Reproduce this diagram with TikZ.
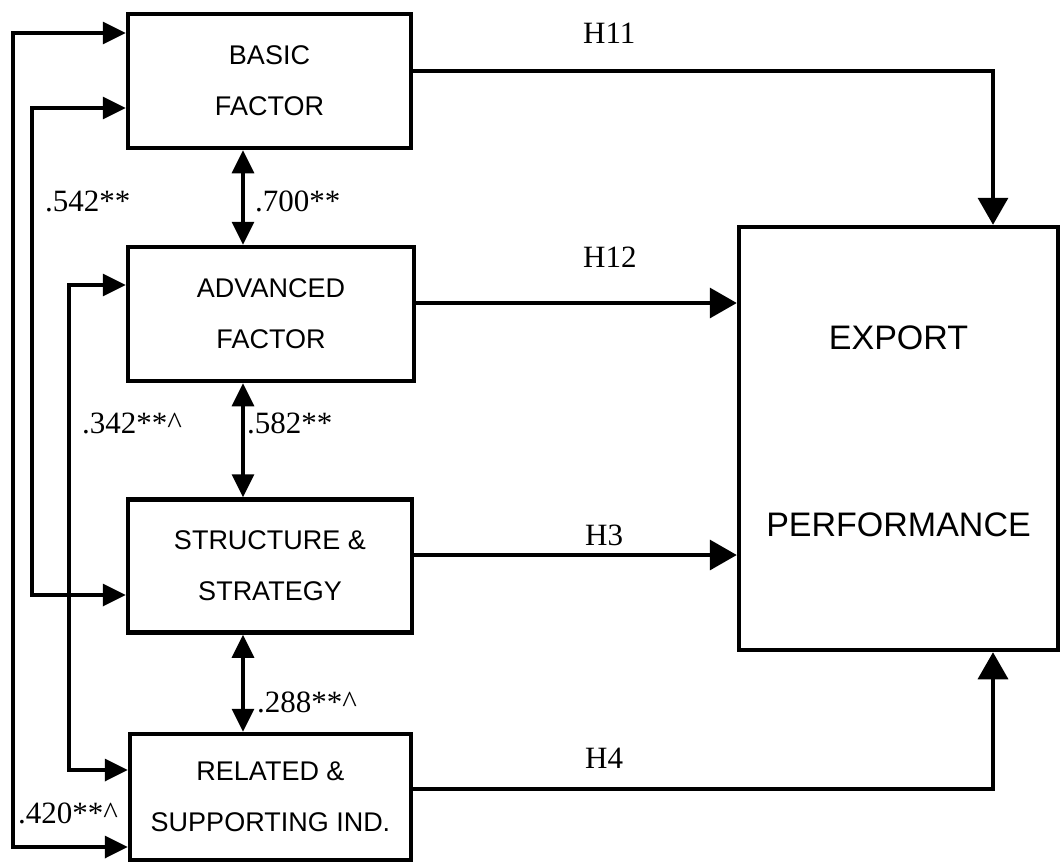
\documentclass[tikz,border=0pt]{standalone}
\usepackage{fontspec}
\setmainfont{Liberation Serif}
\newfontfamily\boxfont{Liberation Sans}
\usetikzlibrary{arrows.meta}
\begin{document}
\begin{tikzpicture}[x=1pt,y=-1pt,
  box/.style={draw, line width=4.5pt, rectangle, inner sep=0pt, align=center,
    font=\boxfont\fontsize{27}{51}\selectfont},
  bigtext/.style={inner sep=0pt, align=center, font=\boxfont\fontsize{34}{187}\selectfont},
  conn/.style={line width=3.5pt, line join=miter},
  lab/.style={inner sep=0pt, anchor=base west, font=\fontsize{31}{31}\selectfont},
  tipS/.tip={Triangle[length=23pt,width=22pt]},
  tipL/.tip={Triangle[length=27pt,width=30pt]}]
\useasboundingbox (0,0) rectangle (1062,865);

% boxes
\node[box, minimum width=283pt, minimum height=134pt] (basic) at (269.5,81) {BASIC\\FACTOR};
\node[box, minimum width=286pt, minimum height=134pt] (advanced) at (271,314) {ADVANCED\\FACTOR};
\node[box, minimum width=284pt, minimum height=133pt] (structure) at (270,566) {STRUCTURE \&\\STRATEGY};
\node[box, minimum width=281pt, minimum height=126pt] (related) at (270.5,797) {RELATED \&\\SUPPORTING IND.};
\node[box, minimum width=319pt, minimum height=423pt] (export) at (898.5,438.5) {};
\node[bigtext] (exporttext) at ([yshift=7pt]export.center) {EXPORT\\PERFORMANCE};

% left correlation connectors
\draw[conn, tipS-tipS] ([yshift=48pt]basic.west) -- ++(-113,0) |- ([yshift=-50pt]related.west);
\draw[conn, tipS-tipS] ([yshift=-27pt]basic.west) -- ++(-94,0) |- ([yshift=-29pt]structure.west);
\draw[conn, tipS-tipS] ([yshift=29pt]advanced.west) -- ++(-57,0) |- ([yshift=27pt]related.west);

% vertical double arrows
\draw[conn, tipS-tipS] ([xshift=-26.5pt]basic.south) -- ([xshift=-26.5pt]basic.south |- advanced.north);
\draw[conn, tipS-tipS] ([xshift=-28pt]advanced.south) -- ([xshift=-28pt]advanced.south |- structure.north);
\draw[conn, tipS-tipS] ([xshift=-27pt]structure.south) -- ([xshift=-27pt]structure.south |- related.north);

% hypotheses
\draw[conn, -tipL] ([yshift=10pt]basic.east) -| ([xshift=94.5pt]export.north);
\draw[conn, -tipL] ([yshift=11pt]advanced.east) -- ([yshift=11pt]advanced.east -| export.west);
\draw[conn, -tipL] ([yshift=11pt]structure.east) -- ([yshift=11pt]structure.east -| export.west);
\draw[conn, -tipL] ([yshift=8pt]related.east) -| ([xshift=94.5pt]export.south);

% labels
\node[lab] (l542) at (45,211) {.542**};
\node[lab] (l700) at (255,211) {.700**};
\node[lab] (l342) at (82,433) {.342**\textasciicircum};
\node[lab] (l582) at (247,433) {.582**};
\node[lab] (l288) at (257,712) {.288**\textasciicircum};
\node[lab] (l420) at (18,823) {.420**\textasciicircum};
\node[lab] (h11) at (583,43) {H11};
\node[lab] (h12) at (583,267) {H12};
\node[lab] (h3) at (585,545) {H3};
\node[lab] (h4) at (585,768) {H4};
\end{tikzpicture}
\end{document}
